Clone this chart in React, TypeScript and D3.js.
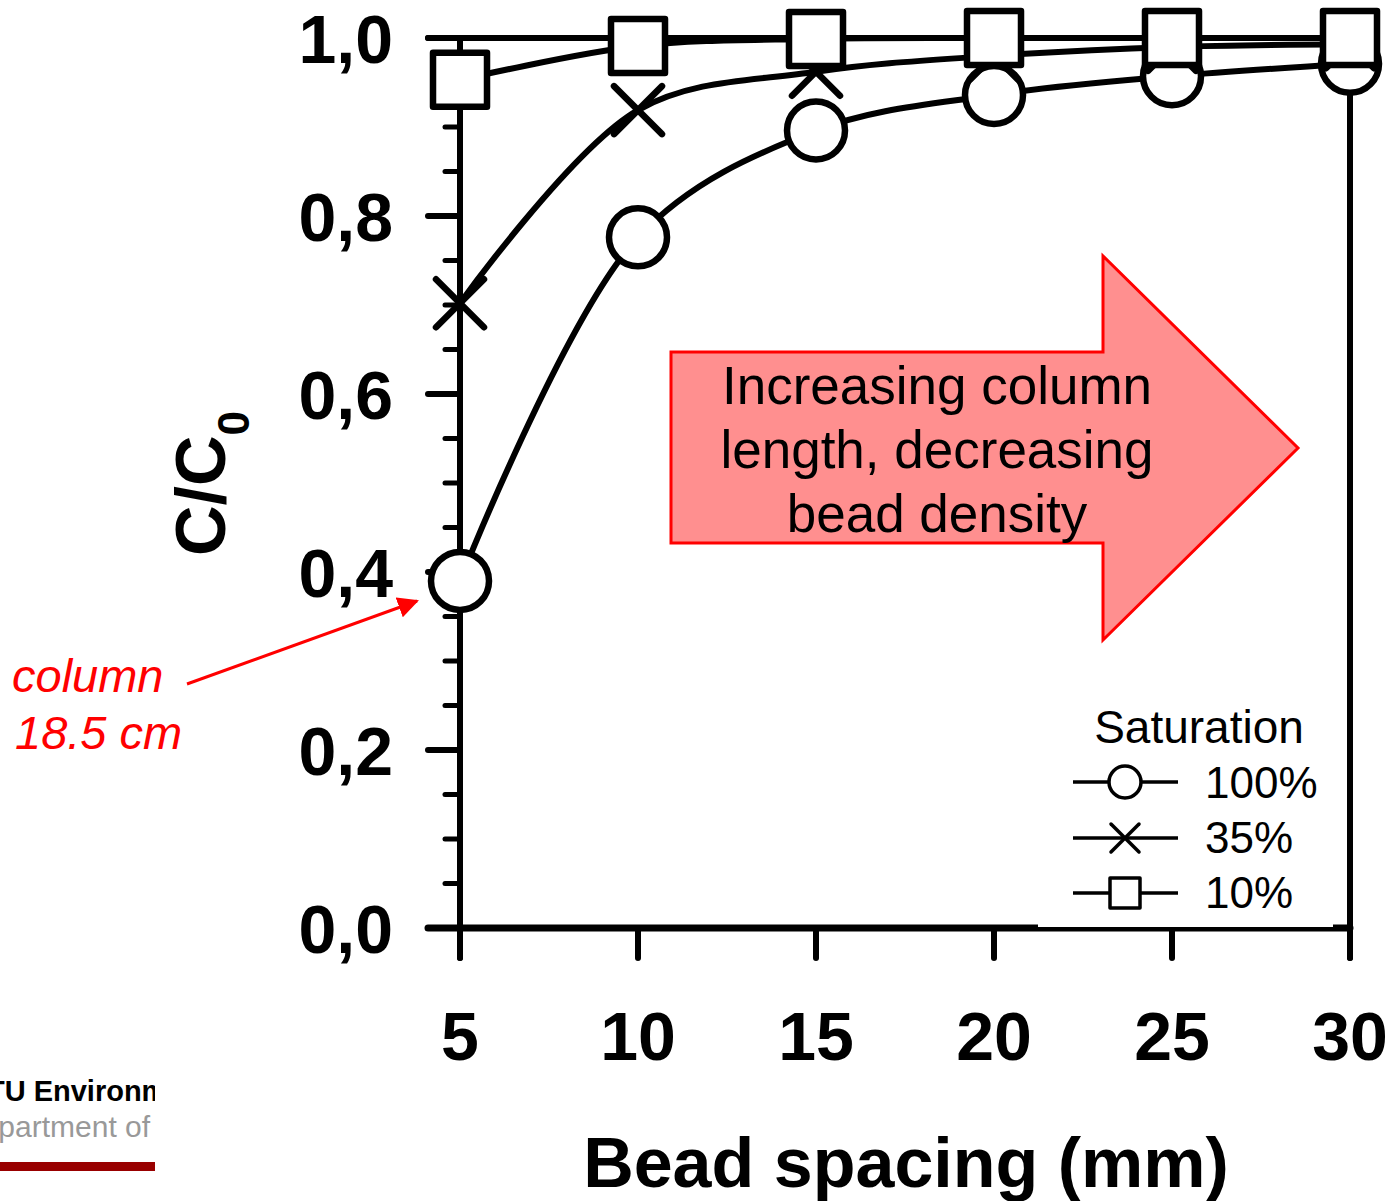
import React from "react";
import * as d3 from "d3";

// Bead spacing (mm)
const beadSpacing = [5, 10, 15, 20, 25, 30];
// C/C0 per saturation level
const sat100 = [0.39, 0.776, 0.896, 0.936, 0.957, 0.971];
const sat35 = [0.702, 0.919, 0.962, 0.98, 0.99, 0.993];
const sat10 = [0.953, 0.991, 0.999, 1.0, 1.0, 1.0];

const yTicks = [0, 0.2, 0.4, 0.6, 0.8, 1.0];
const yMinorTicks = d3.range(0, 1.0001, 0.05);
const xTicks = [5, 10, 15, 20, 25, 30];
const seriesNames = ["100%", "35%", "10%"];

const W = 1392;
const H = 1201;
const FONT = "'Liberation Sans', Arial, Helvetica, sans-serif";

const x = d3.scaleLinear().domain([5, 30]).range([460, 1350]);
const y = d3.scaleLinear().domain([0, 1]).range([928, 38]);

const fmt = (v: number) => v.toFixed(1).replace(".", ",");

type MarkerKind = "circle" | "x" | "square";

function Marker({ kind, cx, cy, size, sw }: { kind: MarkerKind; cx: number; cy: number; size: number; sw: number }) {
  if (kind === "circle") {
    return <circle cx={cx} cy={cy} r={size} fill="#fff" stroke="#000" strokeWidth={sw} />;
  }
  if (kind === "square") {
    return (
      <rect x={cx - size} y={cy - size} width={size * 2} height={size * 2} fill="#fff" stroke="#000" strokeWidth={sw} strokeLinejoin="round" />
    );
  }
  return (
    <g stroke="#000" strokeWidth={sw} strokeLinecap="round">
      <line x1={cx - size} y1={cy - size} x2={cx + size} y2={cy + size} />
      <line x1={cx - size} y1={cy + size} x2={cx + size} y2={cy - size} />
    </g>
  );
}

export default function App() {
  const line = d3
    .line<number>()
    .x((_, i) => x(beadSpacing[i]))
    .y((d) => y(d))
    .curve(d3.curveCatmullRom.alpha(0.5));

  const series: { values: number[]; kind: MarkerKind; size: number }[] = [
    { values: sat100, kind: "circle", size: 29 },
    { values: sat35, kind: "x", size: 24 },
    { values: sat10, kind: "square", size: 27 },
  ];

  const legendRows = [
    { kind: "circle" as MarkerKind, cy: 782, size: 16, base: 798 },
    { kind: "x" as MarkerKind, cy: 838, size: 14, base: 853 },
    { kind: "square" as MarkerKind, cy: 893, size: 15, base: 908 },
  ];

  return (
    <svg width={W} height={H} viewBox={`0 0 ${W} ${H}`} style={{ position: "absolute", left: 0, top: 0, background: "#fff" }}>
      <defs>
        <clipPath id="logoClip">
          <rect x={0} y={1060} width={155} height={120} />
        </clipPath>
        <marker id="redHead" viewBox="0 0 10 10" refX={9} refY={5} markerWidth={7} markerHeight={7} markerUnits="strokeWidth" orient="auto">
          <path d="M0,0 L10,5 L0,10 z" fill="#ff0000" />
        </marker>
      </defs>
      <rect x={0} y={0} width={W} height={H} fill="#fff" />

      {/* direction arrow */}
      <polygon
        points="671,352 1103,352 1103,256 1298,448 1103,640 1103,543 671,543"
        fill="#ff8f8f"
        stroke="#ff0000"
        strokeWidth={3}
        strokeLinejoin="miter"
      />
      <g fontFamily={FONT} fontSize={53} textAnchor="middle" fill="#000">
        <text x={937} y={404}>Increasing column</text>
        <text x={937} y={468}>length, decreasing</text>
        <text x={937} y={532}>bead density</text>
      </g>

      {/* frame and axes */}
      <g stroke="#000" strokeLinecap="round" fill="none">
        <line x1={428} y1={y(1)} x2={x(30)} y2={y(1)} strokeWidth={6} />
        <line x1={x(30)} y1={y(1)} x2={x(30)} y2={958} strokeWidth={6} />
        <line x1={x(5)} y1={y(1)} x2={x(5)} y2={958} strokeWidth={6} />
        <line x1={428} y1={y(0)} x2={x(30)} y2={y(0)} strokeWidth={7} />
        {yTicks.map((t) => (
          <line key={"yt" + t} x1={428} x2={x(5)} y1={y(t)} y2={y(t)} strokeWidth={6} />
        ))}
        {yMinorTicks
          .filter((t) => !yTicks.some((m) => Math.abs(m - t) < 1e-6))
          .map((t) => (
            <line key={"ym" + t} x1={445} x2={x(5)} y1={y(t)} y2={y(t)} strokeWidth={5} />
          ))}
        {xTicks.map((t) => (
          <line key={"xt" + t} x1={x(t)} x2={x(t)} y1={y(0)} y2={958} strokeWidth={6} />
        ))}
      </g>

      {/* tick labels */}
      <g fontFamily={FONT} fontWeight="bold" fontSize={68} fill="#000">
        {yTicks.map((t) => (
          <text key={"yl" + t} x={393} y={y(t) + 25} textAnchor="end">
            {fmt(t)}
          </text>
        ))}
        {xTicks.map((t) => (
          <text key={"xl" + t} x={x(t)} y={1060} textAnchor="middle">
            {t}
          </text>
        ))}
      </g>

      {/* axis titles */}
      <text x={906} y={1187} textAnchor="middle" fontFamily={FONT} fontWeight="bold" fontSize={70} fill="#000">
        Bead spacing (mm)
      </text>
      <text transform="translate(225,556) rotate(-90)" fontFamily={FONT} fontWeight="bold" fontSize={70} fill="#000">
        C/C
        <tspan fontSize={44} dy={24}>0</tspan>
      </text>

      {/* data series */}
      {series.map((s, si) => (
        <g key={"s" + si}>
          <path d={line(s.values) || ""} fill="none" stroke="#000" strokeWidth={6} />
          {s.values.map((v, i) => (
            <Marker key={i} kind={s.kind} cx={x(beadSpacing[i])} cy={y(v)} size={s.size} sw={6.5} />
          ))}
        </g>
      ))}

      {/* legend */}
      <rect x={1038} y={690} width={295} height={237} fill="#fff" />
      <text x={1199} y={743} textAnchor="middle" fontFamily={FONT} fontSize={46} fill="#000">
        Saturation
      </text>
      {legendRows.map((r, i) => (
        <g key={"lg" + i}>
          <line x1={1073} x2={1178} y1={r.cy} y2={r.cy} stroke="#000" strokeWidth={3.5} />
          <Marker kind={r.kind} cx={1125} cy={r.cy} size={r.size} sw={3.5} />
          <text x={1205} y={r.base} fontFamily={FONT} fontSize={44} fill="#000">
            {seriesNames[i]}
          </text>
        </g>
      ))}

      {/* column annotation */}
      <g fontFamily={FONT} fontStyle="italic" fontSize={47} fill="#ff0000">
        <text x={12} y={692}>column</text>
        <text x={15} y={749}>18.5 cm</text>
      </g>
      <line x1={187} y1={684} x2={417} y2={601} stroke="#ff0000" strokeWidth={3} markerEnd="url(#redHead)" />

      {/* footer logo text */}
      <g clipPath="url(#logoClip)">
        <text x={-34} y={1101} fontFamily={FONT} fontWeight="bold" fontSize={29} fill="#000">
          DTU Environment
        </text>
        <text x={-40} y={1137} fontFamily={FONT} fontSize={30} fill="#999">
          Department of Environmental Engineering
        </text>
      </g>
      <rect x={0} y={1162} width={155} height={9} fill="#990000" />
    </svg>
  );
}
